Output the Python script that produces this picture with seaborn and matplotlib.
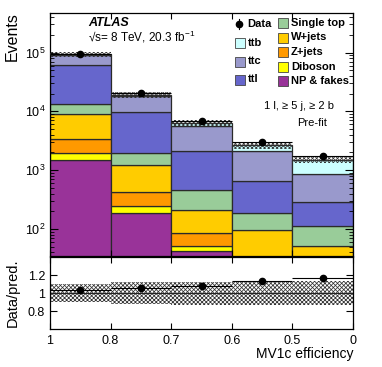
import numpy as np
import pandas as pd
import matplotlib
matplotlib.use("Agg")
import matplotlib.pyplot as plt
import seaborn as sns
from matplotlib.patches import Rectangle
from matplotlib.lines import Line2D

# ---------------- data ----------------
edge_labels = ["1", "0.8", "0.7", "0.6", "0.5", "0"]
processes = ["ttb", "ttc", "ttl", "Single top", "W+jets", "Z+jets", "Diboson", "NP & fakes"]
ttb = [1900, 780, 750, 535, 655]
ttc = [30000, 8860, 3555, 1485, 567]
ttl = [47850, 7628, 1680, 462, 174]
single_top = [4150, 769, 242, 92, 62]
wjets = [5670, 786, 129, 70, 30]
zjets = [1410, 169, 33, 8, 6]
diboson = [440, 58, 8.4, 3, 2]
np_fakes = [1480, 190, 42.9, 14, 14]
data = [95800, 20300, 6920, 3030, 1765]
syst = [0.10, 0.12, 0.127, 0.13, 0.135]
colors = ["#ccffff", "#9999cc", "#6666cc", "#99cc99", "#ffcc00", "#ff9900", "#ffff00", "#993399"]

plt.rcParams["font.family"] = ["Liberation Sans", "DejaVu Sans"]
plt.rcParams["mathtext.fontset"] = "custom"
plt.rcParams["mathtext.rm"] = "Liberation Sans"
plt.rcParams["mathtext.it"] = "Liberation Sans:italic"
plt.rcParams["mathtext.bf"] = "Liberation Sans:bold"
plt.rcParams["hatch.linewidth"] = 0.55

W, H = 382, 367
fig = plt.figure(figsize=(W / 100, H / 100), dpi=100)


def fx(x):
    return x / W


def fy(y):
    return 1 - y / H


ax = fig.add_axes([fx(50), fy(256), fx(353) - fx(50), fy(13) - fy(256)])
rax = fig.add_axes([fx(50), fy(329), fx(353) - fx(50), fy(257.3) - fy(329)])

nb = len(data)
centers = np.arange(nb) + 0.5
edges = np.arange(nb + 1)
series = [ttb, ttc, ttl, single_top, wjets, zjets, diboson, np_fakes]
rows = []
for name, vals in zip(processes, series):
    for c, v in zip(centers, vals):
        rows.append(dict(x=c, w=v, proc=name))
df = pd.DataFrame(rows)

ax.set_yscale("log")
sns.histplot(data=df, x="x", weights="w", hue="proc", hue_order=processes,
             multiple="stack", binwidth=1, binrange=(0, nb), palette=dict(zip(processes, colors)),
             element="bars", edgecolor="#2a2a2a", linewidth=0.9, alpha=1,
             legend=False, ax=ax)

mc = np.sum(np.array(series, dtype=float), axis=0)
unc = np.array(syst)
lo = mc * (1 - unc)
hi = mc * (1 + unc)
ax.fill_between(edges, np.append(lo, lo[-1]), np.append(hi, hi[-1]), step="post",
                facecolor="none", edgecolor="#333333", hatch="xxxxxxxx", linewidth=0, zorder=5)
data_arr = np.array(data, dtype=float)
ax.errorbar(centers, data_arr, xerr=0.5, fmt="o", color="k", ms=4.5,
            elinewidth=0.8, capsize=0, zorder=6)

ax.set_xlim(0, 5)
ax.set_ylim(34.7, 4.7e5)
ax.set_xticks(edges)
ax.set_xticklabels([])
ax.set_xlabel("")
ax.tick_params(axis="both", which="both", direction="in", top=True, right=True, labelsize=9)
ax.tick_params(axis="y", which="major", length=6, width=0.8)
ax.tick_params(axis="y", which="minor", length=3, width=0.6)
ax.tick_params(axis="x", which="major", length=4, width=0.8)
ax.set_ylabel("Events", fontsize=11.5, loc="top")
ax.yaxis.set_label_coords(-0.099, 1.004)

# ratio panel
ratio = data_arr / mc
rax.fill_between(edges, np.append(1 - unc, 1 - unc[-1]), np.append(1 + unc, 1 + unc[-1]),
                 step="post", facecolor="none", edgecolor="#333333", hatch="xxxxxxxx", linewidth=0)
rax.axhline(1, color="#222222", lw=0.8)
rax.errorbar(centers, ratio, xerr=0.5, fmt="o", color="k", ms=4.5,
             elinewidth=0.8, capsize=0, zorder=6)
rax.set_xlim(0, 5)
rax.set_ylim(0.6, 1.4)
rax.set_yticks([0.8, 1.0, 1.2])
rax.set_yticklabels(["0.8", "1", "1.2"])
rax.set_xticks(edges)
rax.set_xticklabels(edge_labels)
rax.tick_params(axis="both", which="both", direction="in", top=True, right=True, labelsize=9)
rax.tick_params(axis="y", length=5, width=0.8)
rax.tick_params(axis="x", length=4, width=0.8, pad=4)
rax.set_ylabel("Data/pred.", fontsize=10.5)
rax.yaxis.set_label_coords(-0.099, 0.5)
rax.set_xlabel("MV1c efficiency", fontsize=10, loc="right")
rax.xaxis.set_label_coords(1.0, -0.25)

for a in (ax, rax):
    for s in a.spines.values():
        s.set_linewidth(0.9)

# texts
fig.text(fx(88), fy(25.8), "ATLAS", fontweight="bold", fontstyle="italic", fontsize=9,
         ha="left", va="baseline")
fig.text(fx(88), fy(41.2), "\u221as= 8 TeV, 20.3 fb$^{-1}$", fontsize=8.5, ha="left", va="baseline")
fig.text(fx(334), fy(106), "1 l, \u2265 5 j, \u2265 2 b", fontsize=8, ha="right", va="center")
fig.text(fx(327), fy(123), "Pre-fit", fontsize=8, ha="right", va="center")

# legend (manual)
col1 = [("ttb", colors[0], 42.5), ("ttc", colors[1], 61.5), ("ttl", colors[2], 79.5)]
col2 = [("Single top", colors[3], 22.5), ("W+jets", colors[4], 37.5), ("Z+jets", colors[5], 52),
        ("Diboson", colors[6], 66.5), ("NP & fakes", colors[7], 81)]
bw, bh = 10, 10
for lab, col, yc in col1:
    fig.patches.append(Rectangle((fx(235), fy(yc + bh / 2)), bw / W, bh / H, facecolor=col,
                                 edgecolor="#444444", lw=0.6, transform=fig.transFigure))
    fig.text(fx(248), fy(yc), lab, fontsize=8, fontweight="bold", ha="left", va="center")
for lab, col, yc in col2:
    fig.patches.append(Rectangle((fx(278), fy(yc + bh / 2)), bw / W, bh / H, facecolor=col,
                                 edgecolor="#444444", lw=0.6, transform=fig.transFigure))
    fig.text(fx(291), fy(yc), lab, fontsize=8, fontweight="bold", ha="left", va="center")
fig.lines.append(Line2D([fx(239.5), fx(239.5)], [fy(19), fy(29)], color="k", lw=0.8,
                        transform=fig.transFigure))
fig.lines.append(Line2D([fx(239.5)], [fy(24)], marker="o", ms=4.5, color="k",
                        transform=fig.transFigure))
fig.text(fx(247), fy(24), "Data", fontsize=8, fontweight="bold", ha="left", va="center")

fig.savefig("out.png", dpi=100)
